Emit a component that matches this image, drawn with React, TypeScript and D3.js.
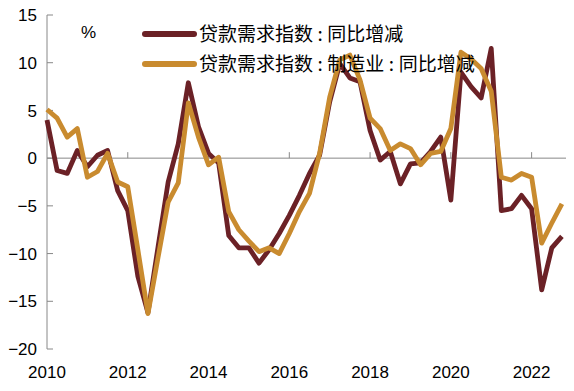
import { useEffect, useRef } from "react";
import * as d3 from "d3";

// quarterly points, 2010Q1 .. 2022Q4
const startYear = 2010;
const loanDemand = [
  4.0, -1.3, -1.6, 0.8, -0.9, 0.3, 0.8, -3.4, -5.5, -12.4, -16.2, -9.3,
  -2.5, 1.5, 7.9, 3.3, 0.5, -0.5, -8.1, -9.4, -9.4, -11.0, -9.6, -7.9,
  -6.0, -3.9, -1.6, 0.3, 5.9, 9.9, 8.4, 8.0, 2.9, -0.2, 0.7, -2.7,
  -0.6, -0.5, 0.7, 2.2, -4.4, 9.0, 7.5, 6.3, 11.5, -5.5, -5.3, -3.9,
  -5.3, -13.8, -9.4, -8.2,
];
const loanDemandMfg = [
  5.1, 4.2, 2.2, 3.1, -2.0, -1.4, 0.5, -2.5, -3.0, -9.6, -16.3, -10.4,
  -4.6, -2.6, 5.8, 2.2, -0.7, 0.1, -5.6, -7.5, -8.7, -9.8, -9.4, -10.0,
  -7.9, -5.6, -3.7, 0.5, 6.4, 10.3, 10.8, 8.2, 4.2, 3.1, 0.8, 1.5,
  1.0, -0.7, 0.5, 0.7, 3.1, 11.1, 10.4, 9.4, 7.0, -2.0, -2.3, -1.6,
  -2.0, -8.9, -6.8, -4.8,
];
const seriesNames = ["贷款需求指数:同比增减", "贷款需求指数:制造业:同比增减"];
const seriesColors = ["#6b2126", "#c98b2f"];
const yTicks = [-20, -15, -10, -5, 0, 5, 10, 15];
const xTicks = [2010, 2012, 2014, 2016, 2018, 2020, 2022];

export default function App() {
  const ref = useRef<SVGSVGElement>(null);

  useEffect(() => {
    drawChart();
  }, []);

  function drawChart() {
    const svg = d3.select(ref.current);
    svg.selectAll("*").remove();

    const x = d3.scaleLinear().domain([2010, 2023]).range([47, 572]);
    const y = d3.scaleLinear().domain([-20, 15]).range([349, 15]);

    const font = "'Liberation Sans', Arial, sans-serif";
    const axisColor = "#888";

    // y axis
    svg.append("line")
      .attr("x1", x(2010)).attr("x2", x(2010))
      .attr("y1", y(15)).attr("y2", y(-20))
      .attr("stroke", axisColor).attr("stroke-width", 1);
    svg.append("g")
      .selectAll("line")
      .data(yTicks)
      .join("line")
      .attr("x1", x(2010)).attr("x2", x(2010) + 6)
      .attr("y1", (d) => y(d)).attr("y2", (d) => y(d))
      .attr("stroke", axisColor);
    svg.append("g")
      .selectAll("text")
      .data(yTicks)
      .join("text")
      .attr("x", 37)
      .attr("y", (d) => y(d))
      .attr("dy", "0.36em")
      .attr("text-anchor", "end")
      .attr("font-family", font)
      .attr("font-size", 17)
      .attr("fill", "#000")
      .text((d) => (d < 0 ? "\u2212" + Math.abs(d) : String(d)));

    // zero line with ticks
    svg.append("line")
      .attr("x1", x(2010)).attr("x2", 566)
      .attr("y1", y(0)).attr("y2", y(0))
      .attr("stroke", axisColor);
    svg.append("g")
      .selectAll("line")
      .data(xTicks.slice(1))
      .join("line")
      .attr("x1", (d) => x(d)).attr("x2", (d) => x(d))
      .attr("y1", y(0)).attr("y2", y(0) - 6)
      .attr("stroke", axisColor);
    svg.append("g")
      .selectAll("text")
      .data(xTicks)
      .join("text")
      .attr("x", (d) => x(d))
      .attr("y", 378)
      .attr("text-anchor", "middle")
      .attr("font-family", font)
      .attr("font-size", 17)
      .attr("fill", "#000")
      .text((d) => d);

    svg.append("text")
      .attr("x", 81).attr("y", 38)
      .attr("font-family", font)
      .attr("font-size", 17)
      .text("%");

    // lines
    const series = [loanDemand, loanDemandMfg];
    const line = d3.line<number>()
      .x((d, i) => x(startYear + i / 4))
      .y((d) => y(d));
    series.forEach((s, k) => {
      svg.append("path")
        .datum(s)
        .attr("fill", "none")
        .attr("stroke", seriesColors[k])
        .attr("stroke-width", 4.8)
        .attr("stroke-linejoin", "round")
        .attr("d", line);
    });

    // legend: colon gets a little air on both sides, as in the source
    seriesNames.forEach((name, k) => {
      const ly = 34 + k * 30;
      svg.append("line")
        .attr("x1", 145).attr("x2", 194)
        .attr("y1", ly).attr("y2", ly)
        .attr("stroke", seriesColors[k])
        .attr("stroke-width", 6)
        .attr("stroke-linecap", "round");
      const t = svg.append("text")
        .attr("x", 199).attr("y", ly)
        .attr("dy", "0.35em")
        .attr("font-family", "'Noto Sans CJK SC', sans-serif")
        .attr("font-size", 19)
        .attr("fill", "#000");
      let prevColon = false;
      name.split(/(:)/).forEach((part) => {
        const isColon = part === ":";
        t.append("tspan")
          .attr("dx", isColon || prevColon ? 4.5 : 0)
          .text(part);
        prevColon = isColon;
      });
    });
  }

  return (
    <svg
      ref={ref}
      width={574}
      height={391}
      style={{ position: "absolute", left: 0, top: 0, background: "#fff" }}
    />
  );
}
